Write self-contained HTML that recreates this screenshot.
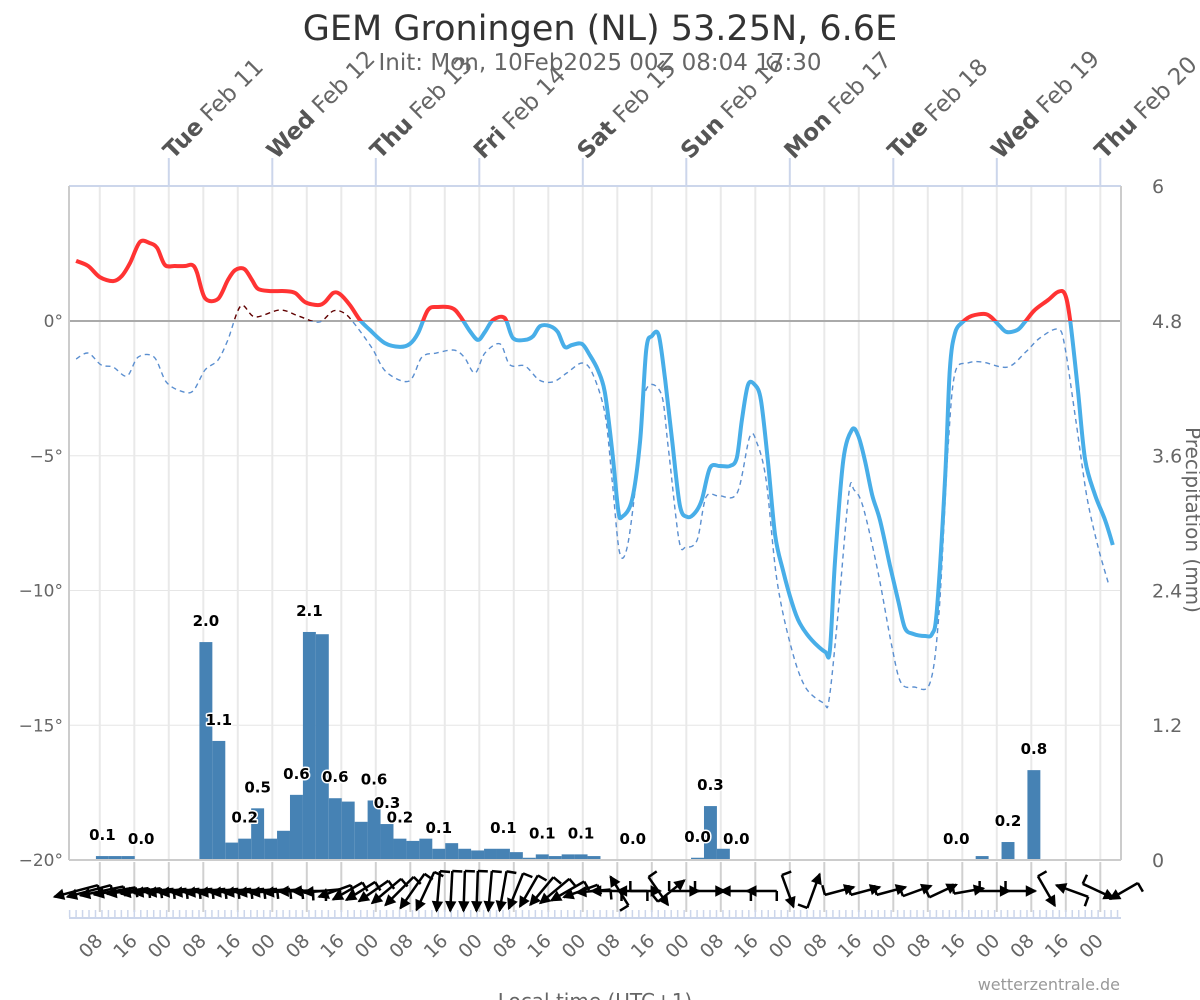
<!DOCTYPE html>
<html><head><meta charset="utf-8"><title>GEM Groningen</title>
<style>
html,body{margin:0;padding:0;background:#fff;}
svg{display:block;font-family:"DejaVu Sans","Liberation Sans",sans-serif;}
</style></head>
<body>
<svg id="chart" width="1200" height="1000" viewBox="0 0 1200 1000" xmlns="http://www.w3.org/2000/svg">
<defs>
  <clipPath id="clipAbove"><rect x="60" y="150" width="1100" height="171"/></clipPath>
  <clipPath id="clipBelow"><rect x="60" y="321" width="1100" height="560"/></clipPath>
</defs>
<text x="600" y="40" text-anchor="middle" font-size="35" fill="#333">GEM Groningen (NL) 53.25N, 6.6E</text>
<text x="600" y="70" text-anchor="middle" font-size="23" fill="#666">Init: Mon, 10Feb2025 00Z 08:04 17:30</text>
<g id="grid"></g>
<g id="bars"></g>
<g id="lines"></g>
<g id="barlabels"></g>
<g id="wind"></g>
<g id="axes"></g>
<text x="595" y="1008" text-anchor="middle" font-size="20" fill="#666">Local time (UTC+1)</text>
<text x="1120" y="990" text-anchor="end" font-size="16" fill="#999">wetterzentrale.de</text>
<text x="1186" y="520" text-anchor="middle" font-size="20" fill="#666" transform="rotate(90 1186 520)">Precipitation (mm)</text>
</svg>
<script>
// ---- data ----
const tempHours=[2.5,5.3,8.0,11.1,13.1,15.0,17.3,19.6,21.3,23.1,25.4,27.8,29.4,30.5,32.4,35.4,37.7,39.4,41.5,43.3,44.7,47.5,50.9,53.3,55.6,58.6,60.2,62.1,63.7,66.0,68.3,70.6,74.1,77.6,79.9,81.8,84.1,86.4,89.7,91.5,93.8,95.7,97.3,99.2,101.9,103.8,106.6,108.5,110.1,112.4,114.2,115.8,117.5,119.8,121.6,123.5,125.1,126.8,128.2,129.1,131.4,133.3,134.7,136.0,137.6,139.1,140.7,142.5,144.2,146.0,147.6,149.5,151.8,154.1,155.7,156.9,158.3,159.9,161.3,162.9,164.6,166.4,168.5,170.3,173.1,176.2,177.3,178.5,180.4,182.4,183.8,185.4,187.1,188.9,191.2,193.1,194.7,196.6,199.4,201.0,202.1,204.0,205.1,206.3,208.1,210.2,213.3,214.9,216.7,218.3,220.8,222.5,224.8,227.9,230.2,231.8,233.0,234.8,236.5,238.8,241.1,242.9];
const tempValues=[2.23,2.04,1.63,1.48,1.67,2.15,2.93,2.89,2.71,2.08,2.04,2.04,2.08,1.82,0.85,0.82,1.52,1.89,1.93,1.52,1.19,1.11,1.11,1.04,0.70,0.59,0.70,1.04,1.00,0.59,0.04,-0.33,-0.82,-0.96,-0.85,-0.45,0.41,0.52,0.48,0.19,-0.37,-0.70,-0.41,0.04,0.11,-0.63,-0.70,-0.56,-0.19,-0.19,-0.41,-0.96,-0.89,-0.85,-1.26,-1.82,-2.64,-4.79,-7.01,-7.27,-6.64,-4.42,-1.08,-0.56,-0.52,-2.19,-4.42,-6.83,-7.27,-7.12,-6.64,-5.45,-5.38,-5.38,-5.08,-3.67,-2.37,-2.37,-2.93,-5.16,-7.94,-9.24,-10.46,-11.21,-11.84,-12.28,-12.21,-8.87,-5.16,-4.04,-4.23,-5.16,-6.46,-7.38,-9.05,-10.35,-11.39,-11.61,-11.69,-11.61,-10.72,-5.90,-1.82,-0.45,-0.04,0.19,0.26,0.11,-0.19,-0.41,-0.33,-0.04,0.41,0.78,1.08,1.00,0.04,-2.56,-5.16,-6.46,-7.38,-8.31];
const dewHours=[2.5,5.3,8.3,11.1,14.3,16.9,20.6,23.4,26.8,29.6,32.4,35.4,37.7,40.7,44.0,49.8,54.0,58.8,62.1,64.6,66.9,71.1,74.4,79.7,82.7,86.0,90.1,92.5,95.0,97.3,100.8,103.1,106.6,109.9,113.1,116.3,119.8,122.2,125.1,126.8,128.5,130.3,132.4,134.4,138.1,139.8,142.3,143.9,146.5,148.6,151.6,155.8,158.7,160.4,162.5,165.0,168.3,171.6,175.8,177.1,179.2,181.7,182.9,185.0,188.5,191.7,193.8,196.8,200.5,202.6,204.7,206.3,209.3,212.6,218.5,222.7,226.0,230.2,231.8,234.4,236.9,239.5,242.0];
const dewValues=[-1.41,-1.19,-1.63,-1.71,-2.04,-1.34,-1.34,-2.26,-2.60,-2.60,-1.82,-1.45,-0.70,0.56,0.15,0.41,0.19,-0.04,0.37,0.30,-0.07,-1.00,-1.89,-2.23,-1.34,-1.19,-1.08,-1.34,-1.93,-1.19,-0.85,-1.63,-1.67,-2.19,-2.26,-1.93,-1.56,-1.93,-3.41,-5.90,-8.57,-8.39,-5.90,-2.67,-2.67,-4.68,-8.13,-8.39,-8.13,-6.53,-6.49,-6.38,-4.30,-4.53,-5.90,-9.61,-12.10,-13.58,-14.17,-14.06,-10.83,-6.38,-6.27,-6.90,-9.35,-12.10,-13.43,-13.58,-13.43,-10.83,-4.68,-1.93,-1.56,-1.52,-1.71,-1.15,-0.63,-0.30,-0.96,-3.78,-6.53,-8.39,-9.80];
const precipStart=8.6; // centre hour of first bar, 3h bars
const precipValues=[0.035,0.035,0.035,0,0,0,0,0,1.94,1.06,0.155,0.19,0.46,0.19,0.26,0.58,2.03,2.01,0.55,0.52,0.34,0.53,0.32,0.19,0.17,0.19,0.10,0.15,0.10,0.085,0.10,0.10,0.07,0.02,0.05,0.035,0.05,0.05,0.035,0,0,0,0,0,0,0,0.02,0.48,0.10,0,0,0,0,0,0,0,0,0,0,0,0,0,0,0,0,0,0,0,0.035,0,0.16,0,0.8];
const labelIdx=[0,3,8,9,11,12,15,16,18,21,22,23,26,31,34,37,41,46,47,49,66,70,72];
const labelText=["0.1","0.0","2.0","1.1","0.2","0.5","0.6","2.1","0.6","0.6","0.3","0.2","0.1","0.1","0.1","0.1","0.0","0.0","0.3","0.0","0.0","0.2","0.8"];
const windHours=[2.5,5.5,8.5,11.5,14.5,17.5,20.5,23.5,26.5,29.5,32.5,35.5,38.5,41.5,44.5,47.5,50.5,53.5,56.5,59.5,62.5,65.5,68.5,71.5,74.5,77.5,80.5,83.5,86.5,89.5,92.5,95.5,98.5,101.5,104.5,107.5,110.5,113.5,116.5,119.5,122.5,125.5,128.5,131.5,134.5,137.5,140.5,143.5,149.5,155.5,161.5,167.5,173.5,179.5,185.5,191.5,197.5,203.5,209.5,215.5,221.5,227.5,233.5,239.5,245.5];
const windDir=[165,165,168,170,172,172,174,174,174,174,174,174,174,174,174,174,174,178,180,175,160,150,148,145,140,135,125,115,95,93,92,92,95,100,112,120,130,140,150,160,175,180,238,180,0,55,321,0,0,180,180,70,290,345,345,345,340,335,350,0,0,60,200,25,150];
const windLen=[45,45,44,42,42,40,40,40,40,40,40,40,40,40,40,40,38,34,34,36,34,34,34,36,38,40,42,42,40,40,40,40,40,40,38,36,36,38,38,36,34,30,34,30,30,34,34,30,30,30,30,34,36,30,30,30,30,30,30,30,30,34,34,34,32];
const leftTicks=[0,-5,-10,-15,-20];
const rightTicks=[6,4.8,3.6,2.4,1.2,0];
const dayNames=["Tue","Wed","Thu","Fri","Sat","Sun","Mon","Tue","Wed","Thu"];
const dayDates=["Feb 11","Feb 12","Feb 13","Feb 14","Feb 15","Feb 16","Feb 17","Feb 18","Feb 19","Feb 20"];
const hourLabels=["08","16","00"];

// ---- axes ----
const NS="http://www.w3.org/2000/svg";
const X0=65.3, PXH=103.5/24;
function xOf(h){return X0+PXH*h;}
function yT(t){return 321-26.95*t;}
function yP(p){return 860-112.33*p;}
function mk(tag,attrs,parent){const e=document.createElementNS(NS,tag);for(const k in attrs)e.setAttribute(k,attrs[k]);parent.appendChild(e);return e;}
function smooth(pts){
  let d="M"+pts[0][0].toFixed(1)+","+pts[0][1].toFixed(1);
  for(let i=0;i<pts.length-1;i++){
    const p0=pts[Math.max(0,i-1)],p1=pts[i],p2=pts[i+1],p3=pts[Math.min(pts.length-1,i+2)];
    const k=0.16;
    const c1x=p1[0]+(p2[0]-p0[0])*k,c1y=p1[1]+(p2[1]-p0[1])*k;
    const c2x=p2[0]-(p3[0]-p1[0])*k,c2y=p2[1]-(p3[1]-p1[1])*k;
    d+=" C"+c1x.toFixed(1)+","+c1y.toFixed(1)+" "+c2x.toFixed(1)+","+c2y.toFixed(1)+" "+p2[0].toFixed(1)+","+p2[1].toFixed(1);
  }
  return d;
}
const grid=document.getElementById('grid');
const axes=document.getElementById('axes');
[5,-5,-10,-15].forEach(v=>{const l=mk('line',{x1:69,x2:1121,y1:yT(v),y2:yT(v),stroke:'#e6e6e6','stroke-width':1},grid);

});
for(let h=8;h<=248;h+=8){const x=xOf(h);if(x>1121)break;
  const l=mk('line',{x1:x,x2:x,y1:186,y2:860,stroke:'#e9e9e9','stroke-width':2},grid);
  
  
  const w=mk('line',{x1:x,x2:x,y1:862,y2:912,stroke:'#d0d0d0','stroke-width':2},grid);
  
  
  const lab=mk('text',{x:x+4,y:942,'text-anchor':'end','font-size':19,fill:'#666',transform:'rotate(-45 '+(x+4)+' 942)'},axes);
  lab.textContent=hourLabels[(h/8-1)%3];
  
  
}
for(let h=1;h<=247;h+=1.5){const x=xOf(h);if(x<69||x>1121)continue;
  const t=mk('line',{x1:x,x2:x,y1:910,y2:917,stroke:'#ccd6eb','stroke-width':1.5},grid);
  
  }
const wl=mk('line',{x1:69,x2:1121,y1:918,y2:918,stroke:'#ccd6eb','stroke-width':2},axes);


const ta=mk('line',{x1:69,x2:1121,y1:186,y2:186,stroke:'#ccd6eb','stroke-width':2},axes);


dayNames.forEach((n,i)=>{const x=xOf(24*(i+1));
  const t=mk('line',{x1:x,x2:x,y1:158,y2:186,stroke:'#ccd6eb','stroke-width':2},axes);
  
  
  const tx=mk('text',{x:x+4,y:160,'font-size':23,fill:'#666',transform:'rotate(-45 '+(x+4)+' 160)'},axes);
  
  
  const b=mk('tspan',{'font-weight':'bold',fill:'#555'},tx);b.textContent=n;
  const r=mk('tspan',{},tx);r.textContent=" "+dayDates[i];
});
const lb=mk('line',{x1:69,x2:69,y1:186,y2:860,stroke:'#ccc','stroke-width':2},axes);

const rb=mk('line',{x1:1121,x2:1121,y1:186,y2:860,stroke:'#ccc','stroke-width':2},axes);

const bb=mk('line',{x1:69,x2:1121,y1:860,y2:860,stroke:'#ccc','stroke-width':2},axes);

const zl=mk('line',{x1:69,x2:1121,y1:yT(0),y2:yT(0),stroke:'#aaa','stroke-width':2},grid);

leftTicks.forEach(v=>{const t=mk('text',{x:63,y:yT(v)+6,'text-anchor':'end','font-size':17,fill:'#666'},axes);
  t.textContent=(v<0?'\u2212'+(-v):v)+'°';
  });
rightTicks.forEach(v=>{const t=mk('text',{x:1152,y:yP(v)+7,'font-size':19,fill:'#666'},axes);
  t.textContent=String(v);
  });
const bars=document.getElementById('bars');
precipValues.forEach((v,k)=>{if(v<=0)return;const c=precipStart+3*k;
  const x1=xOf(c-1.5),x2=xOf(c+1.5);
  const r=mk('rect',{x:x1,y:yP(v),width:x2-x1,height:860-yP(v),fill:'#4682b4'},bars);
  });
const bl=document.getElementById('barlabels');
labelIdx.forEach((k,i)=>{const c=precipStart+3*k;const v=precipValues[k];
  const t=mk('text',{x:xOf(c),y:yP(v)-16,'text-anchor':'middle','font-size':15,'font-weight':'bold',fill:'#000',stroke:'#fff','stroke-width':3,'paint-order':'stroke','stroke-linejoin':'round'},bl);
  t.textContent=labelText[i];
  });
const lines=document.getElementById('lines');
const dPts=dewHours.map((h,i)=>[xOf(h),yT(dewValues[i])]);
const tPts=tempHours.map((h,i)=>[xOf(h),yT(tempValues[i])]);
const dd=smooth(dPts), td=smooth(tPts);
const d1=mk('path',{d:dd,fill:'none',stroke:'#5b8fd0','stroke-width':1.4,'stroke-dasharray':'5,4','clip-path':'url(#clipBelow)'},lines);

const d2=mk('path',{d:dd,fill:'none',stroke:'#600000','stroke-width':1.4,'stroke-dasharray':'5,4','clip-path':'url(#clipAbove)'},lines);

const t1=mk('path',{d:td,fill:'none',stroke:'#48aee8','stroke-width':4,'stroke-linejoin':'round','clip-path':'url(#clipBelow)'},lines);

const t2=mk('path',{d:td,fill:'none',stroke:'#ff3333','stroke-width':4,'stroke-linejoin':'round','clip-path':'url(#clipAbove)'},lines);

const wind=document.getElementById('wind');
windHours.forEach((h,i)=>{const cx=xOf(h),cy=891;const a=windDir[i]*Math.PI/180,L=windLen[i];
  const tx=cx+Math.cos(a)*L/2,ty=cy+Math.sin(a)*L/2,bx=cx-Math.cos(a)*L/2,by=cy-Math.sin(a)*L/2;
  const g=mk('g',{},wind);
  
  
  mk('line',{x1:bx,y1:by,x2:tx,y2:ty,stroke:'#000','stroke-width':2.5},g);
  const hl=9,hw=4.5;
  const px=tx-Math.cos(a)*hl,py=ty-Math.sin(a)*hl;
  const nx=-Math.sin(a)*hw,ny=Math.cos(a)*hw;
  mk('polygon',{points:tx+','+ty+' '+(px+nx)+','+(py+ny)+' '+(px-nx)+','+(py-ny),fill:'#000',stroke:'#000','stroke-width':1.5},g);
  const ba=a-Math.PI/2;
  mk('line',{x1:bx,y1:by,x2:bx+Math.cos(ba)*10,y2:by+Math.sin(ba)*10,stroke:'#000','stroke-width':2.5},g);
});
</script>
</body></html>
